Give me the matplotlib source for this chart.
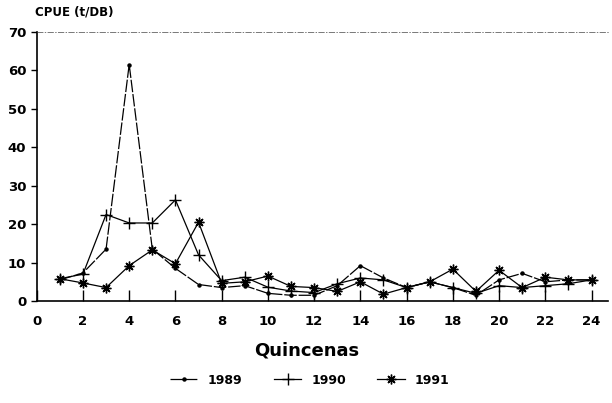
import numpy as np
import matplotlib
matplotlib.use("Agg")
from matplotlib import pyplot as plt

quincenas = np.arange(1, 25)
cpue_1989 = [5.5, 7.3, 13.5, 61.5, 13.5, 8.5, 4.3, 3.5, 4.0, 2.0, 1.5, 1.5,
             4.0, 9.2, 6.0, 3.5, 5.0, 3.5, 1.5, 5.5, 7.2, 5.0, 5.5, 5.5]
cpue_1990 = [5.8, 7.0, 22.5, 20.3, 20.3, 26.3, 12.0, 5.3, 6.2, 3.6, 2.6, 2.2,
             4.5, 6.0, 5.5, 3.5, 5.0, 3.5, 2.0, 4.0, 3.5, 4.0, 4.5, 5.5]
cpue_1991 = [5.8, 4.7, 3.5, 9.2, 13.3, 9.7, 20.5, 4.6, 5.0, 6.5, 3.8, 3.5,
             2.5, 5.0, 1.8, 3.5, 5.0, 8.3, 2.5, 8.0, 3.5, 6.2, 5.5, 5.5]
years = ["1989", "1990", "1991"]
yticks = np.arange(0, 71, 10)
xticks = np.arange(0, 25, 2)

fig = plt.figure(figsize=(6.12, 4.03), dpi=100)
ax = fig.add_axes([0.06, 0.253, 0.933, 0.668])

ax.plot(quincenas, cpue_1989, color="black", lw=0.9, ls=(0, (10, 1.5)),
        marker="o", ms=2.2, label=years[0])
ax.plot(quincenas, cpue_1990, color="black", lw=0.9, marker="+", ms=8,
        mew=1.0, label=years[1])
ax.plot(quincenas, cpue_1991, color="black", lw=0.9, marker=(8, 2, 0), ms=7,
        mew=1.0, label=years[2])

ax.set_xlim(0, 24.7)
ax.set_ylim(0, 70)
ax.set_yticks(yticks)
ax.set_xticks(xticks)
ax.tick_params(axis="y", direction="out", length=4, width=1, labelsize=9.5)
ax.tick_params(axis="x", direction="in", length=8, width=1, labelsize=9.5, pad=10)
for lab in ax.get_xticklabels() + ax.get_yticklabels():
    lab.set_fontweight("bold")

ax.spines["top"].set_linestyle((0, (8, 3, 1, 3)))
ax.spines["top"].set_linewidth(0.5)
ax.spines["top"].set_color("#444444")
ax.spines["right"].set_visible(False)
ax.spines["left"].set_linewidth(1.2)
ax.spines["bottom"].set_linewidth(1.2)

fig.text(0.057, 1 - 12 / 403, "CPUE (t/DB)", fontsize=8.5, fontweight="bold",
         va="center", ha="left")
fig.text(307 / 612, 1 - 350 / 403, "Quincenas", fontsize=13, fontweight="bold",
         va="center", ha="center")

fig.legend(loc="center", bbox_to_anchor=(310 / 612, 1 - 380 / 403), ncol=3,
           frameon=False, handlelength=2.2, columnspacing=2.5,
           prop={"weight": "bold", "size": 9})

fig.savefig("out.png", dpi=100)
